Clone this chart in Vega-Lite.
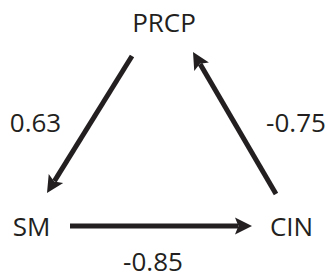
{
  "$schema": "https://vega.github.io/schema/vega-lite/v6.json",
  "width": 328,
  "height": 276,
  "autosize": {"type": "fit", "contains": "padding"},
  "padding": 0,
  "background": "white",
  "config": {"view": {"stroke": null}},
  "datasets": {
    "edges": [
      {"from": "PRCP", "to": "SM", "x1": 132, "y1": 56, "x2": 54.4, "y2": 181.1, "tx": 47, "ty": 193, "angle": 211.8},
      {"from": "CIN", "to": "PRCP", "x1": 276, "y1": 194, "x2": 200.1, "y2": 64.1, "tx": 193, "ty": 52, "angle": 329.7},
      {"from": "SM", "to": "CIN", "x1": 70, "y1": 226, "x2": 238, "y2": 226, "tx": 252, "ty": 226, "angle": 90}
    ],
    "labels": [
      {"text": "PRCP", "x": 164, "y": 32},
      {"text": "SM", "x": 31.5, "y": 236},
      {"text": "CIN", "x": 291.5, "y": 236},
      {"text": "0.63", "x": 35.5, "y": 132},
      {"text": "-0.75", "x": 296, "y": 132},
      {"text": "-0.85", "x": 153, "y": 271}
    ]
  },
  "layer": [
    {
      "data": {"name": "edges"},
      "mark": {"type": "rule", "strokeWidth": 5, "color": "#231f20", "strokeCap": "butt"},
      "encoding": {
        "x": {"field": "x1", "type": "quantitative", "scale": {"domain": [0, 328], "nice": false, "zero": false}, "axis": null},
        "y": {"field": "y1", "type": "quantitative", "scale": {"domain": [0, 276], "nice": false, "zero": false, "reverse": true}, "axis": null},
        "x2": {"field": "x2"},
        "y2": {"field": "y2"}
      }
    },
    {
      "data": {"name": "edges"},
      "mark": {"type": "point", "shape": "M0,0L-1,2L0,1.6L1,2Z", "filled": true, "size": 289, "color": "#231f20", "opacity": 1, "strokeWidth": 0},
      "encoding": {
        "x": {"field": "tx", "type": "quantitative", "axis": null},
        "y": {"field": "ty", "type": "quantitative", "axis": null},
        "angle": {"field": "angle", "type": "quantitative", "scale": null}
      }
    },
    {
      "data": {"name": "labels"},
      "mark": {"type": "text", "font": "Open Sans", "fontSize": 26, "align": "center", "baseline": "alphabetic", "color": "#231f20"},
      "encoding": {
        "x": {"field": "x", "type": "quantitative", "axis": null},
        "y": {"field": "y", "type": "quantitative", "axis": null},
        "text": {"field": "text"}
      }
    }
  ]
}
